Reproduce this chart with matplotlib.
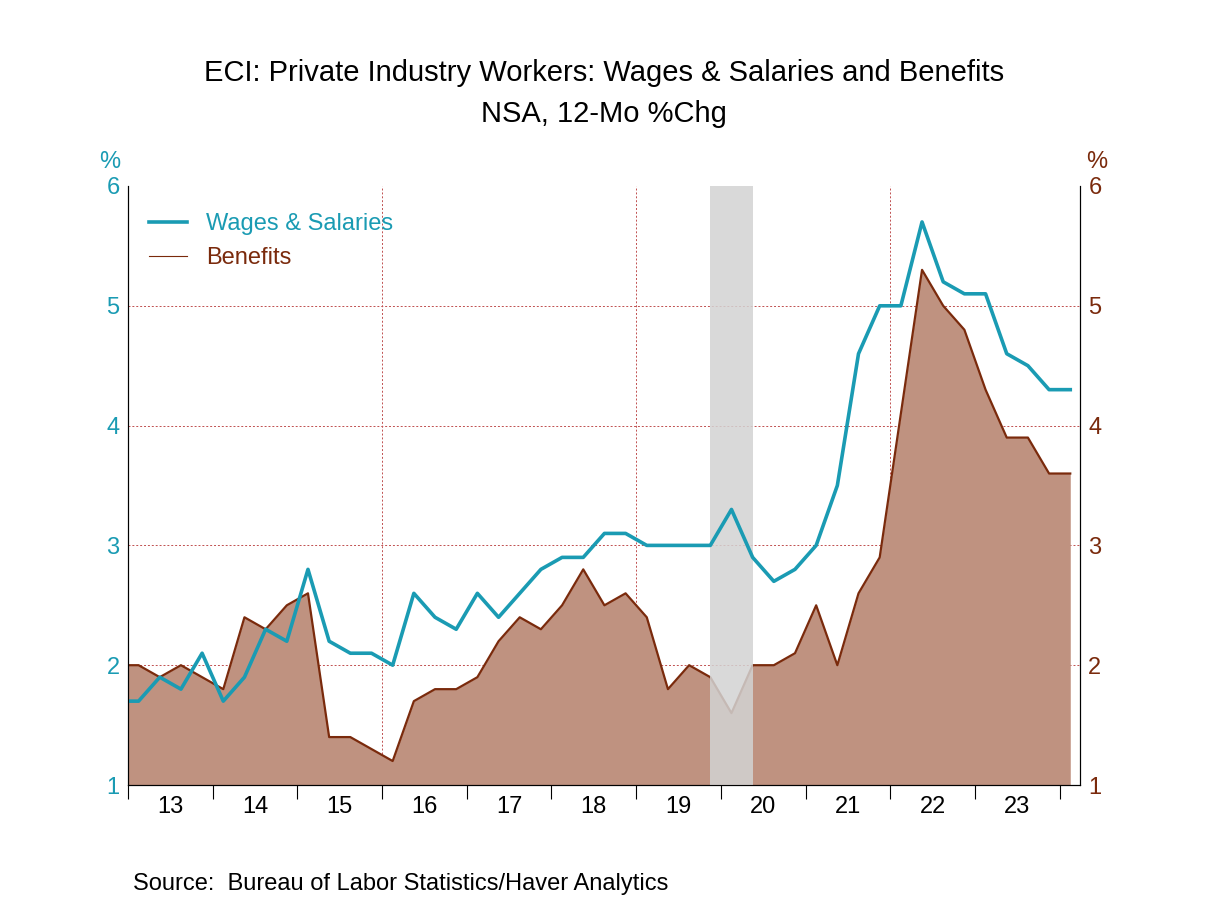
import matplotlib
matplotlib.use("Agg")
import matplotlib.pyplot as plt
import numpy as np

plt.rcParams['font.family'] = ['Liberation Sans', 'DejaVu Sans']

start_year = 2012.875  # 2012Q4, plotted at mid-quarter
wages = [1.7, 1.7, 1.9, 1.8, 2.1, 1.7, 1.9, 2.3, 2.2, 2.8, 2.2, 2.1, 2.1, 2.0, 2.6, 2.4,
         2.3, 2.6, 2.4, 2.6, 2.8, 2.9, 2.9, 3.1, 3.1, 3.0, 3.0, 3.0, 3.0, 3.3, 2.9, 2.7,
         2.8, 3.0, 3.5, 4.6, 5.0, 5.0, 5.7, 5.2, 5.1, 5.1, 4.6, 4.5, 4.3, 4.3]
benefits = [2.0, 2.0, 1.9, 2.0, 1.9, 1.8, 2.4, 2.3, 2.5, 2.6, 1.4, 1.4, 1.3, 1.2, 1.7, 1.8,
            1.8, 1.9, 2.2, 2.4, 2.3, 2.5, 2.8, 2.5, 2.6, 2.4, 1.8, 2.0, 1.9, 1.6, 2.0, 2.0,
            2.1, 2.5, 2.0, 2.6, 2.9, 4.1, 5.3, 5.0, 4.8, 4.3, 3.9, 3.9, 3.6, 3.6]
year_labels = ["13", "14", "15", "16", "17", "18", "19", "20", "21", "22", "23"]
recession = (2019.875, 2020.375)

x = start_year + 0.25 * np.arange(len(wages))
teal = "#1a9bb3"
brown = "#7a2a0c"
fillc = "#bf9280"

fig = plt.figure(figsize=(12.08, 9.06), dpi=100)
ax = fig.add_axes([128/1208, 1-785/906, (1080-128)/1208, (785-186)/906])
ax.set_xlim(2013.0, 2024.24)
ax.set_ylim(1, 6)

ax.fill_between(x, 1, benefits, color=fillc, lw=0, zorder=1)
ax.plot(x, benefits, color=brown, lw=1.6, zorder=2)
ax.axvspan(*recession, color="#d3d3d3", alpha=0.85, zorder=3, lw=0)
ax.plot(x, wages, color=teal, lw=2.6, zorder=4)

for yv in range(2, 6):
    ax.axhline(yv, color="#c05050", lw=0.7, ls=(0, (2, 2)), zorder=0.5)
for xv in [2016, 2019, 2022]:
    ax.axvline(xv, color="#c05050", lw=0.7, ls=(0, (2, 2)), zorder=0.5)

ax.spines["top"].set_visible(False)
ax.set_yticks(range(1, 7))
ax.set_yticklabels([str(v) for v in range(1, 7)], color=teal, fontsize=17)
ax.tick_params(axis="y", length=0, pad=6)
ax.set_xticks(range(2013, 2025))
ax.set_xticklabels([])
ax.set_xticks([y + 0.5 for y in range(2013, 2024)], minor=True)
ax.set_xticklabels(year_labels, minor=True, fontsize=17)
ax.tick_params(axis="x", which="major", length=10, direction="out")
ax.tick_params(axis="x", which="minor", length=0, pad=8)

ax2 = ax.twinx()
ax2.set_ylim(1, 6)
ax2.set_yticks(range(1, 7))
ax2.set_yticklabels([str(v) for v in range(1, 7)], color=brown, fontsize=17)
ax2.tick_params(axis="y", length=0, pad=6)
ax2.spines["top"].set_visible(False)

fig.text(110/1208, 1-162/906, "%", color=teal, fontsize=17, ha="center", va="center")
fig.text(1097/1208, 1-162/906, "%", color=brown, fontsize=17, ha="center", va="center")

fig.text(604/1208, 1-73/906, "ECI: Private Industry Workers: Wages & Salaries and Benefits",
         fontsize=21, ha="center", va="center")
fig.text(604/1208, 1-114/906, "NSA, 12-Mo %Chg", fontsize=21, ha="center", va="center")

leg_handles = [plt.Line2D([], [], color=teal, lw=2.6), plt.Line2D([], [], color=brown, lw=0.8)]
leg = ax.legend(leg_handles, ["Wages & Salaries", "Benefits"], loc="upper left",
                bbox_to_anchor=(0.0, 0.99), frameon=False, fontsize=17, handlelength=1.6)
leg.get_texts()[0].set_color(teal)
leg.get_texts()[1].set_color(brown)

fig.text(133/1208, 1-884/906, "Source:  Bureau of Labor Statistics/Haver Analytics",
         fontsize=17, ha="left", va="center")

fig.savefig("out.png", dpi=100)
